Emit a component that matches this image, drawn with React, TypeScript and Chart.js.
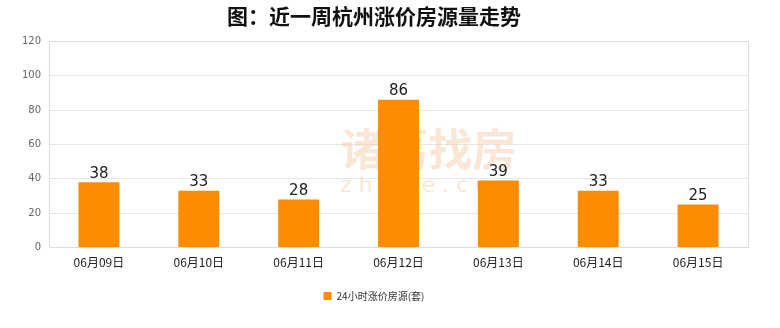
import React, { useEffect, useRef } from "react";
import { Chart, registerables } from "chart.js";

Chart.register(...registerables);

const categories = ["06月09日", "06月10日", "06月11日", "06月12日", "06月13日", "06月14日", "06月15日"];
const values = [38, 33, 28, 86, 39, 33, 25];
const seriesName = "24小时涨价房源(套)";
const titleText = "图：近一周杭州涨价房源量走势";
const yMax = 120;
const yStep = 20;

const frameAndLabels = {
  id: "frameAndLabels",
  beforeDatasetsDraw(chart: any) {
    const { ctx, chartArea } = chart;
    ctx.save();
    const cx = (chartArea.left + chartArea.right) / 2;
    ctx.fillStyle = "rgba(246, 205, 170, 0.5)";
    ctx.textAlign = "center";
    ctx.textBaseline = "middle";
    ctx.font = "bold 44px 'Noto Sans CJK SC'";
    ctx.fillText("诸葛找房", cx + 30, chartArea.top + 108);
    ctx.font = "22px 'DejaVu Sans'";
    ctx.fillText("z h u g e . c o m", cx + 30, chartArea.top + 145);
    ctx.restore();
  },
  afterDatasetsDraw(chart: any) {
    const { ctx, chartArea } = chart;
    ctx.save();
    ctx.strokeStyle = "#dcdcdc";
    ctx.lineWidth = 1;
    ctx.strokeRect(Math.round(chartArea.left) + 0.5, Math.round(chartArea.top) + 0.5, Math.round(chartArea.right - chartArea.left), Math.round(chartArea.bottom - chartArea.top));
    const meta = chart.getDatasetMeta(0);
    ctx.fillStyle = "#222";
    ctx.font = "15px 'DejaVu Sans'";
    ctx.textAlign = "center";
    ctx.textBaseline = "bottom";
    meta.data.forEach((bar: any, i: number) => {
      ctx.fillText(String(chart.data.datasets[0].data[i]), bar.x, bar.y - 1);
    });
    ctx.restore();
  },
};

export default function App() {
  const ref = useRef<HTMLCanvasElement>(null);
  useEffect(() => {
    document.body.style.margin = "0";
    const chart = new Chart(ref.current!, {
      type: "bar",
      data: {
        labels: categories,
        datasets: [
          {
            label: seriesName,
            data: values,
            backgroundColor: "#ff8c00",
            borderWidth: 0,
            barPercentage: 0.41,
            categoryPercentage: 1,
          },
        ],
      },
      options: {
        animation: false,
        responsive: false,
        maintainAspectRatio: false,
        layout: { padding: { left: 0, right: 32, top: 0, bottom: 17 } },
        plugins: {
          title: {
            display: true,
            text: titleText,
            color: "#111",
            font: { size: 21, weight: "bold", family: "'Noto Sans CJK SC'" },
            padding: { top: 3, bottom: 13 },
          },
          legend: {
            position: "bottom",
            labels: {
              boxWidth: 8,
              boxHeight: 8,
              color: "#333",
              font: { size: 10, family: "'Noto Sans CJK SC'" },
              padding: 21,
            },
          },
          tooltip: { enabled: false },
        },
        scales: {
          x: {
            grid: { display: false },
            border: { color: "#dcdcdc" },
            ticks: { color: "#222", font: { size: 12, family: "'Noto Sans CJK SC'" }, padding: 0 },
          },
          y: {
            min: 0,
            max: yMax,
            afterFit(scale: any) {
              scale.width = 49;
            },
            ticks: { stepSize: yStep, color: "#666", font: { size: 10, family: "'DejaVu Sans'" }, padding: 8 },
            grid: { color: "#e6e6e6", drawTicks: false },
            border: { display: false },
          },
        },
      },
      plugins: [frameAndLabels],
    });
    return () => chart.destroy();
  }, []);
  return <canvas ref={ref} width={780} height={328} style={{ display: "block" }} />;
}
